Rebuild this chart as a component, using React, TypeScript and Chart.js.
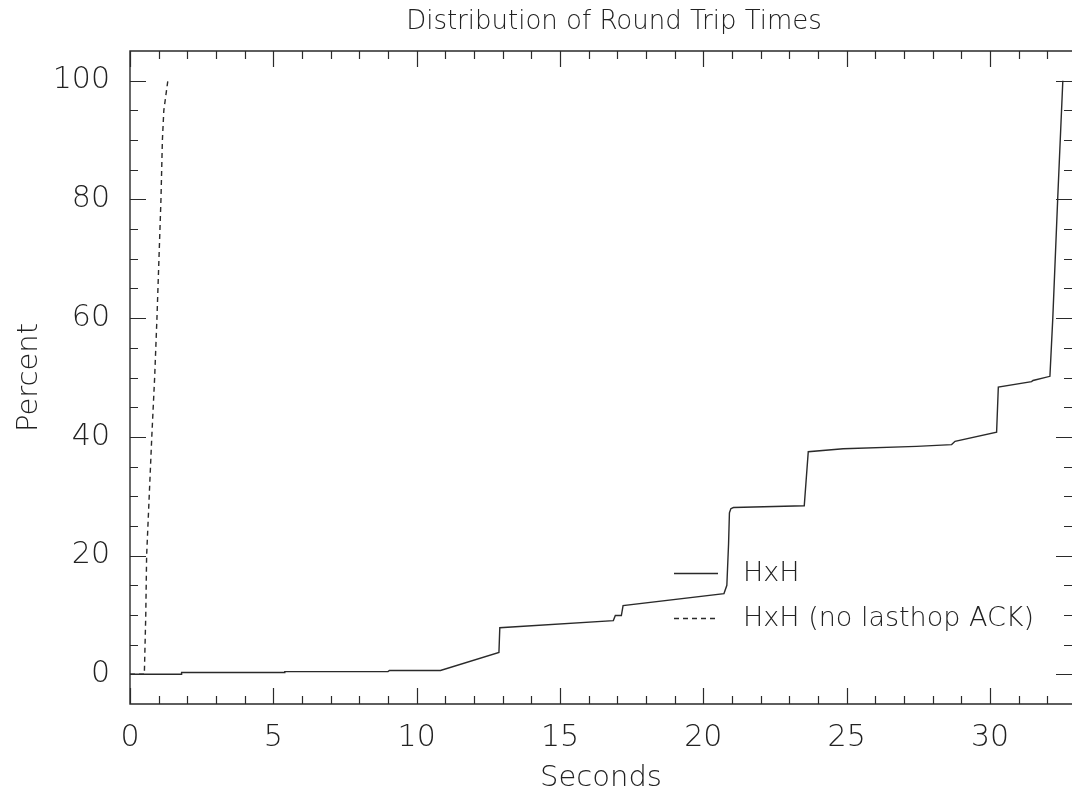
import React, { useEffect, useRef } from "react";
import { Chart, registerables } from "chart.js";

Chart.register(...registerables);

// ---- data ----
const chartTitle = "Distribution of Round Trip Times";
const xAxisTitle = "Seconds";
const yAxisTitle = "Percent";
const seriesNames = ["HxH", "HxH (no lasthop ACK)"];

const hxhSeconds = [0, 1.8, 1.8, 5.4, 5.4, 9.0, 9.05, 10.83, 12.87, 12.9, 16.86, 16.93, 17.14, 17.2, 20.72, 20.82, 20.88, 20.91, 20.96, 21.05, 23.52, 23.66, 24.88, 27.44, 28.66, 28.78, 30.23, 30.29, 31.45, 31.5, 32.09, 32.19, 32.36, 32.54];
const hxhPercent = [0, 0, 0.3, 0.3, 0.45, 0.45, 0.65, 0.65, 3.7, 7.85, 9.05, 9.9, 9.9, 11.57, 13.6, 15.0, 22.0, 27.2, 27.9, 28.1, 28.4, 37.5, 38.0, 38.4, 38.7, 39.25, 40.77, 48.4, 49.3, 49.5, 50.2, 60, 80, 100];

const noAckSeconds = [0, 0.5, 0.55, 0.58, 0.67, 0.76, 0.86, 0.94, 1.01, 1.08, 1.13, 1.18, 1.32];
const noAckPercent = [0, 0, 10, 20, 30, 40, 50, 60, 70, 80, 90, 95, 100];

const xMin = 0;
const xMax = 32.86;
const yMin = -5;
const yMax = 105;
const xTickValues = [0, 5, 10, 15, 20, 25, 30];
const yTickValues = [0, 20, 40, 60, 80, 100];
const xMinorStep = 1;
const yMinorStep = 5;

const FONT = "DejaVu Sans";
const INK = "#222222";
const LINE = "#2a2a2a";

function toPoints(xs: number[], ys: number[]) {
  return xs.map((x, i) => ({ x, y: ys[i] }));
}

const framePlugin = {
  id: "frame",
  afterDraw(chart: any) {
    const { ctx, chartArea } = chart;
    const { left, right, top, bottom } = chartArea;
    const xs = chart.scales.x;
    const ys = chart.scales.y;
    ctx.save();
    ctx.strokeStyle = LINE;
    ctx.lineWidth = 1.4;
    ctx.setLineDash([]);
    ctx.beginPath();
    ctx.moveTo(right + 2, top);
    ctx.lineTo(left, top);
    ctx.lineTo(left, bottom);
    ctx.lineTo(right + 2, bottom);
    ctx.stroke();

    ctx.lineWidth = 1.2;
    ctx.beginPath();
    for (let v = Math.ceil(xMin); v <= xMax + 1e-9; v += xMinorStep) {
      const major = xTickValues.includes(v);
      const len = major ? 16 : 8;
      const px = Math.round(xs.getPixelForValue(v)) + 0.5;
      ctx.moveTo(px, bottom);
      ctx.lineTo(px, bottom - len);
      ctx.moveTo(px, top);
      ctx.lineTo(px, top + len);
    }
    for (let v = 0; v <= 100 + 1e-9; v += yMinorStep) {
      const major = yTickValues.includes(v);
      const len = major ? 16 : 8;
      const py = Math.round(ys.getPixelForValue(v)) + 0.5;
      ctx.moveTo(left, py);
      ctx.lineTo(left + len, py);
      ctx.moveTo(right, py);
      ctx.lineTo(right - len, py);
    }
    ctx.stroke();

    // title
    ctx.fillStyle = INK;
    ctx.font = `200 26px "${FONT}"`;
    ctx.textAlign = "center";
    ctx.textBaseline = "middle";
    ctx.fillText(chartTitle, 614, 22);

    // legend inside plot
    const lx0 = left + 544;
    const lx1 = left + 588;
    const tx = left + 613;
    const rows = [top + 522, top + 567];
    ctx.font = `200 27px "${FONT}"`;
    ctx.textAlign = "left";
    chart.data.datasets.forEach((ds: any, i: number) => {
      const y = rows[i];
      ctx.strokeStyle = ds.borderColor;
      ctx.lineWidth = ds.borderWidth;
      ctx.setLineDash(ds.borderDash || []);
      ctx.beginPath();
      ctx.moveTo(lx0, y + 0.5);
      ctx.lineTo(lx1, y + 0.5);
      ctx.stroke();
      ctx.setLineDash([]);
      ctx.fillText(ds.label, tx, y + 1);
    });
    ctx.restore();
  },
};

export default function App() {
  const ref = useRef<HTMLCanvasElement>(null);
  useEffect(() => {
    if (!ref.current) return;
    const tickFont = { family: FONT, size: 30, weight: "200" as any };
    const titleFont = { family: FONT, size: 29, weight: "200" as any };
    const chart = new Chart(ref.current, {
      type: "scatter",
      data: {
        datasets: [
          {
            label: seriesNames[0],
            data: toPoints(hxhSeconds, hxhPercent),
            showLine: true,
            borderColor: LINE,
            borderWidth: 1.4,
            pointRadius: 0,
            tension: 0,
          },
          {
            label: seriesNames[1],
            data: toPoints(noAckSeconds, noAckPercent),
            showLine: true,
            borderColor: LINE,
            borderWidth: 1.4,
            borderDash: [5, 4],
            pointRadius: 0,
            tension: 0,
          },
        ],
      },
      options: {
        responsive: false,
        animation: false,
        devicePixelRatio: 1,
        layout: { padding: { top: 51, left: 0, right: 0, bottom: 0 } },
        plugins: {
          legend: { display: false },
          title: { display: false },
          tooltip: { enabled: false },
        },
        scales: {
          x: {
            type: "linear",
            min: xMin,
            max: xMax,
            grid: { display: false, drawTicks: false },
            border: { display: false },
            ticks: { font: tickFont, color: INK, padding: 16, maxRotation: 0, autoSkip: false },
            afterBuildTicks: (axis: any) => {
              axis.ticks = xTickValues.map((value) => ({ value }));
            },
            afterFit: (axis: any) => {
              axis.height = 94;
              axis.paddingLeft = 0;
              axis.paddingRight = 0;
            },
            title: { display: true, text: xAxisTitle, font: titleFont, color: INK, padding: { top: 2, bottom: 2 } },
          },
          y: {
            type: "linear",
            min: yMin,
            max: yMax,
            grid: { display: false, drawTicks: false },
            border: { display: false },
            ticks: { font: tickFont, color: INK, padding: 20, autoSkip: false },
            afterBuildTicks: (axis: any) => {
              axis.ticks = yTickValues.map((value) => ({ value }));
            },
            afterFit: (axis: any) => {
              axis.width = 130;
              axis.paddingTop = 0;
              axis.paddingBottom = 0;
            },
            title: { display: true, text: yAxisTitle, font: titleFont, color: INK, padding: { top: 12, bottom: 12 } },
          },
        },
      },
      plugins: [framePlugin],
    });
    return () => chart.destroy();
  }, []);
  return (
    <div style={{ position: "fixed", left: 0, top: 0, width: 1072, height: 798, background: "#fff" }}>
      <canvas ref={ref} width={1072} height={798} style={{ display: "block" }} />
    </div>
  );
}
